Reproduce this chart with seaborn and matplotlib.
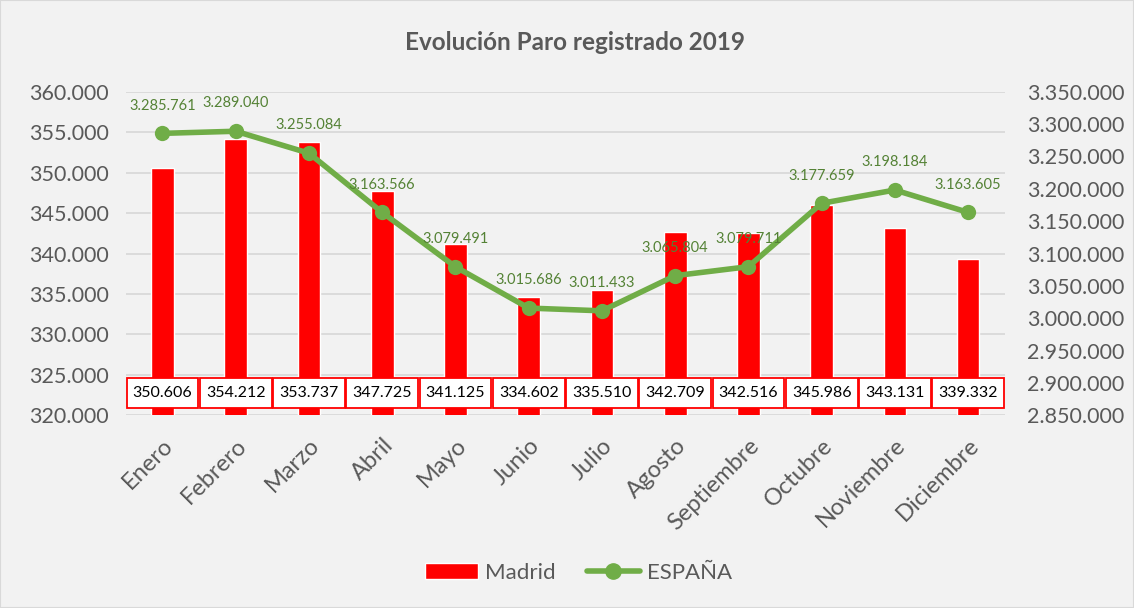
import numpy as np
import pandas as pd
import matplotlib.pyplot as plt
import seaborn as sns
from matplotlib.patches import Rectangle
from matplotlib.lines import Line2D
from matplotlib.ticker import FuncFormatter

# Datos
meses = ['Enero', 'Febrero', 'Marzo', 'Abril', 'Mayo', 'Junio', 'Julio',
         'Agosto', 'Septiembre', 'Octubre', 'Noviembre', 'Diciembre']
madrid = [350606, 354212, 353737, 347725, 341125, 334602, 335510,
          342709, 342516, 345986, 343131, 339332]
espana = [3285761, 3289040, 3255084, 3163566, 3079491, 3015686, 3011433,
          3065804, 3079711, 3177659, 3198184, 3163605]

df = pd.DataFrame({'mes': meses, 'Madrid': madrid, 'ESPAÑA': espana})

def miles(v):
    return f'{int(round(v)):,}'.replace(',', '.')

sns.set_style('white')
plt.rcParams['font.family'] = ['Lato', 'DejaVu Sans']

bg = '#f2f2f2'
gris = '#595959'
rojo = '#ff0000'
verde = '#70ad47'

fig = plt.figure(figsize=(11.34, 6.08), dpi=100, facecolor=bg)
fig.patches.append(Rectangle((0, 0), 1, 1, transform=fig.transFigure,
                             fill=False, edgecolor='#d9d9d9', lw=1.5))
ax = fig.add_axes([0.111, 0.317, 0.775, 0.532])
ax.set_facecolor(bg)

# Barras Madrid
sns.barplot(data=df, x='mes', y='Madrid', color=rojo, width=0.31,
            saturation=1, ax=ax, zorder=2)
ax.set_ylim(320000, 360000)
ax.set_yticks(np.arange(320000, 360001, 5000))
ax.yaxis.set_major_formatter(FuncFormatter(lambda v, p: miles(v)))
ax.grid(axis='y', color='#d9d9d9', lw=1.3, zorder=0)
ax.set_axisbelow(True)
ax.set_xlim(-0.5, len(meses) - 0.5)

# Etiquetas en caja de Madrid
for i, v in enumerate(madrid):
    ax.add_patch(Rectangle((i - 0.49, 320870), 0.98, 3710, facecolor='white',
                           edgecolor=rojo, lw=1.3, zorder=3))
    ax.text(i, 322725, miles(v), ha='center', va='center', fontsize=11.5,
            color='black', zorder=4)

# Línea España
ax2 = ax.twinx()
sns.lineplot(data=df, x='mes', y='ESPAÑA', color=verde, lw=4, marker='o',
             markersize=11, markeredgewidth=0, ax=ax2, sort=False)
ax2.set_ylim(2850000, 3350000)
ax2.set_yticks(np.arange(2850000, 3350001, 50000))
ax2.yaxis.set_major_formatter(FuncFormatter(lambda v, p: miles(v)))
for i, v in enumerate(espana):
    ax2.annotate(miles(v), (i, v), xytext=(0, 20), textcoords='offset points',
                 ha='center', va='center', fontsize=10.5, color='#548235')

for a in (ax, ax2):
    for s in a.spines.values():
        s.set_visible(False)
    a.set_xlabel('')
    a.set_ylabel('')
    a.tick_params(length=0, labelsize=15.5, labelcolor=gris)

ax.tick_params(axis='y', pad=12)
ax2.tick_params(axis='y', pad=16)
ax.set_xticks(range(len(meses)))
ax.set_xticklabels(meses, rotation=45, ha='right', rotation_mode='anchor')
ax.tick_params(axis='x', pad=14, labelsize=17)

fig.text(0.507, 0.93, 'Evolución Paro registrado 2019', ha='center',
         va='center', fontsize=17.5, fontweight='bold', color=gris)

handles = [Rectangle((0, 0), 1, 1, facecolor=rojo),
           Line2D([], [], color=verde, lw=4, marker='o', markersize=11)]
fig.legend(handles, ['Madrid', 'ESPAÑA'], loc='center', ncol=2,
           bbox_to_anchor=(0.51, 0.058), frameon=False, fontsize=16,
           labelcolor=gris, handlelength=2.4, columnspacing=1.4,
           handletextpad=0.3)

fig.savefig('out.png', dpi=100, facecolor=bg)
